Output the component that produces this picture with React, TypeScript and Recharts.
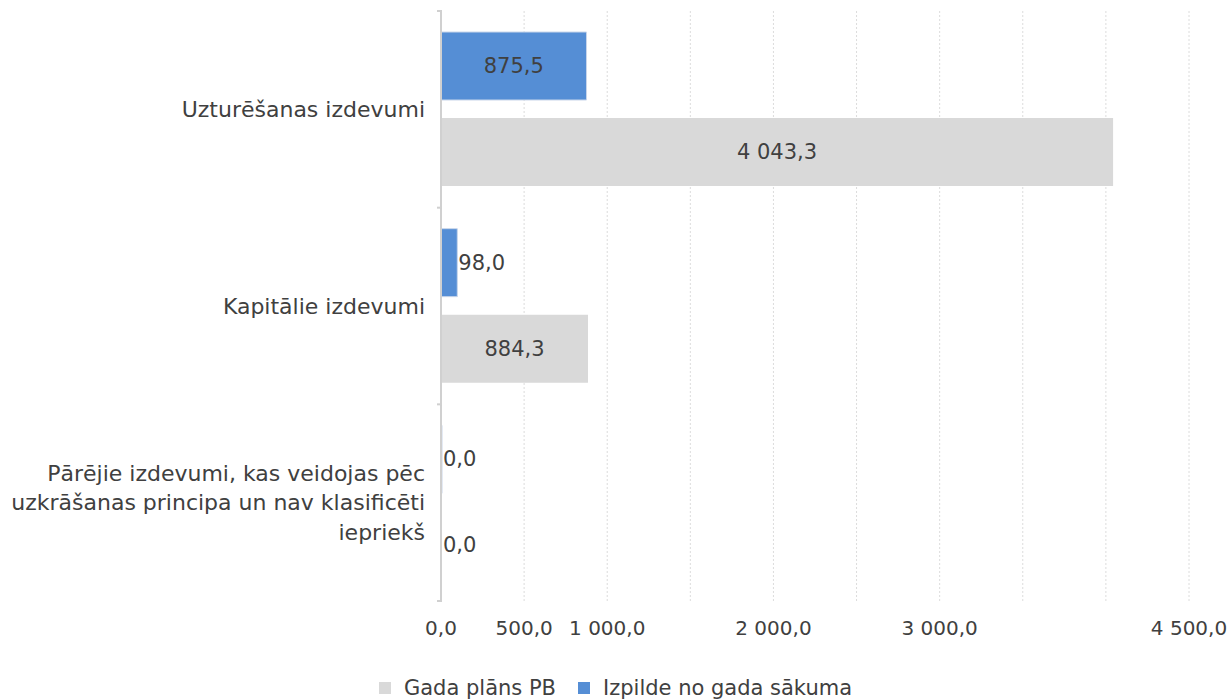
import React from 'react';
import { BarChart, Bar, XAxis, YAxis, CartesianGrid, Legend, LabelList, Text } from 'recharts';

const categories = [
  'Uzturēšanas izdevumi',
  'Kapitālie izdevumi',
  'Pārējie izdevumi, kas veidojas pēc uzkrāšanas principa un nav klasificēti iepriekš',
];
const izpilde = [875.5, 98.0, 0.0];
const gadaPlans = [4043.3, 884.3, 0.0];
const xTicks = [0, 500, 1000, 1500, 2000, 2500, 3000, 3500, 4000, 4500];
const xTickLabelsShown = [0, 500, 1000, 2000, 3000, 4500];
const seriesNames = { plan: 'Gada plāns PB', izp: 'Izpilde no gada sākuma' };

const data = categories.map((c, i) => ({ name: c, izp: izpilde[i], plan: gadaPlans[i] }));

const FONT = 'DejaVu Sans';
const TEXT = '#404040';
const BLUE = '#558ed5';
const GRAY = '#d9d9d9';
const AXIS = '#d0d0d0';

function fmt(v: number): string {
  const [int, dec] = v.toFixed(1).split('.');
  return int.replace(/\B(?=(\d{3})+(?!\d))/g, ' ') + ',' + dec;
}

function textWidth(s: string, size: number): number {
  let w = 0;
  for (const ch of s) w += ch === ',' || ch === ' ' ? 0.318 : 0.636;
  return w * size;
}

const ValueLabel = (props: any) => {
  const { x, y, width, height, value } = props;
  const s = fmt(Number(value));
  const size = 21;
  const tw = textWidth(s, size);
  const inside = width > tw + 8;
  const cx = inside ? x + width / 2 : x + width + 1;
  return (
    <text
      x={cx}
      y={y + height / 2}
      textAnchor={inside ? 'middle' : 'start'}
      dominantBaseline="central"
      fontFamily={FONT}
      fontSize={size}
      fill={TEXT}
    >
      {s}
    </text>
  );
};

const CategoryTick = (props: any) => {
  const { x, y, payload, index, visibleTicksCount } = props;
  const half = payload && payload.offset ? payload.offset : 0;
  const axisX = x + 9;
  const isLast = index === (visibleTicksCount ?? categories.length) - 1;
  return (
    <g>
      <line x1={axisX - 5} x2={axisX} y1={y - half} y2={y - half} stroke={AXIS} strokeWidth={2} />
      {isLast && <line x1={axisX - 5} x2={axisX} y1={y + half} y2={y + half} stroke={AXIS} strokeWidth={2} />}
      <Text
        x={x - 8}
        y={y}
        width={425}
        textAnchor="end"
        verticalAnchor="middle"
        lineHeight="1.36em"
        fontFamily={FONT}
        fontSize={22}
        style={{ fontFamily: FONT, fontSize: '22px' }}
        fill={TEXT}
      >
        {payload.value}
      </Text>
    </g>
  );
};

const XTick = (props: any) => {
  const { x, y, payload } = props;
  if (!xTickLabelsShown.includes(payload.value)) return null;
  return (
    <text x={x} y={y} dy={19} textAnchor="middle" dominantBaseline="central" fontFamily={FONT} fontSize={20} fill={TEXT}>
      {fmt(payload.value)}
    </text>
  );
};

const LegendContent = () => {
  const items = [
    { name: seriesNames.plan, color: GRAY },
    { name: seriesNames.izp, color: BLUE },
  ];
  return (
    <div style={{ height: 40, display: 'flex', justifyContent: 'center', alignItems: 'flex-start', paddingTop: 17, boxSizing: 'border-box' }}>
      {items.map((it, i) => (
        <div key={it.name} style={{ display: 'flex', alignItems: 'center', marginRight: i === 0 ? 22 : 0, fontFamily: FONT, fontSize: 21, color: TEXT, lineHeight: '22px' }}>
          <span style={{ display: 'inline-block', width: 12, height: 12, background: it.color, marginRight: 13 }} />
          <span>{it.name}</span>
        </div>
      ))}
    </div>
  );
};

export default function App() {
  return (
    <div style={{ position: 'absolute', left: 0, top: 0, width: 1231, height: 700, background: '#fff' }}>
      <BarChart
        width={1231}
        height={700}
        data={data}
        layout="vertical"
        margin={{ top: 11, right: 42, bottom: 9, left: 0 }}
        barSize={68}
        barGap={18}
      >
        <CartesianGrid vertical horizontal={false} stroke="#dcdcdc" strokeDasharray="2 2" />
        <XAxis
          type="number"
          dataKey="plan"
          domain={[0, 4500]}
          ticks={xTicks}
          interval={0}
          axisLine={false}
          tickLine={false}
          height={50}
          tick={<XTick />}
        />
        <YAxis
          type="category"
          dataKey="name"
          width={441}
          interval={0}
          axisLine={{ stroke: AXIS, strokeWidth: 2 }}
          tickLine={false}
          tick={<CategoryTick />}
        />
        <Legend verticalAlign="bottom" wrapperStyle={{ bottom: 0, left: 0, width: 1231 }} content={<LegendContent />} />
        <Bar dataKey="izp" name={seriesNames.izp} fill={BLUE} stroke="#c9d6ea" strokeWidth={1} minPointSize={1} isAnimationActive={false}>
          <LabelList dataKey="izp" content={<ValueLabel />} />
        </Bar>
        <Bar dataKey="plan" name={seriesNames.plan} fill={GRAY} minPointSize={1} isAnimationActive={false}>
          <LabelList dataKey="plan" content={<ValueLabel />} />
        </Bar>
      </BarChart>
    </div>
  );
}
